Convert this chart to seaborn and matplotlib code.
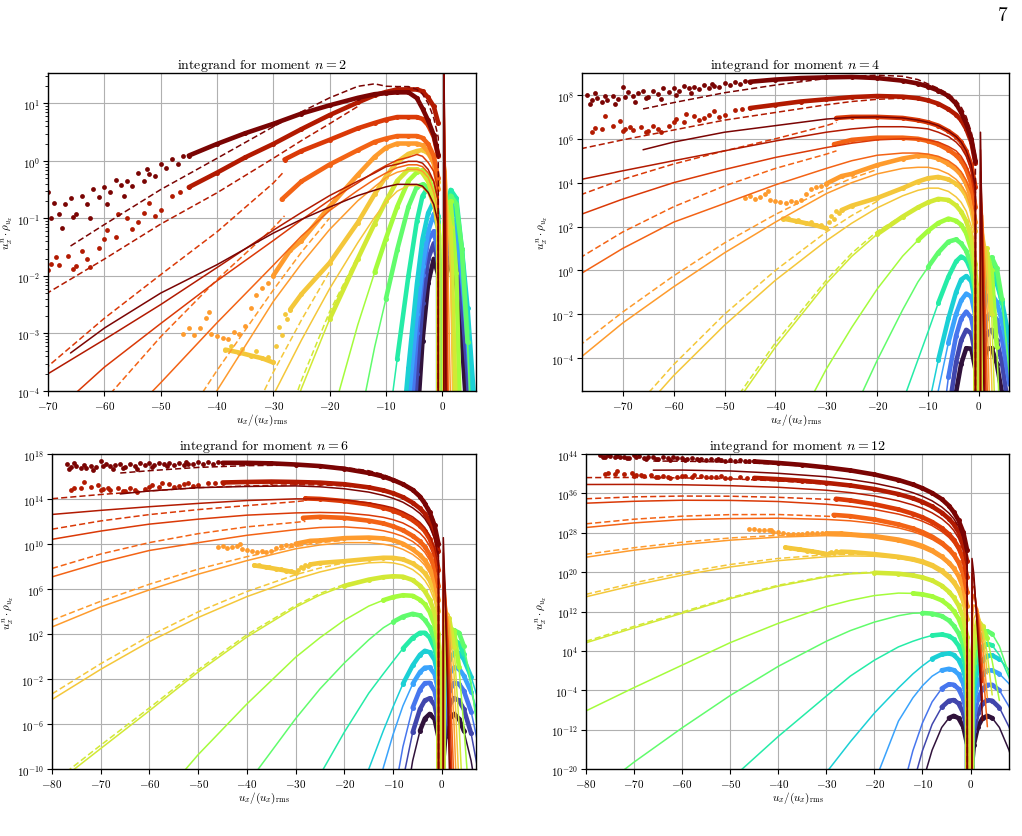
import numpy as np
import matplotlib
matplotlib.use("Agg")
import matplotlib.pyplot as plt
from matplotlib.ticker import NullLocator
import seaborn as sns

Z = -np.inf   # integrand is exactly zero at u_x = 0
N = np.nan    # curve not drawn there

u_grid = [-80, -70, -60, -50, -40, -30, -25, -20, -15, -12, -10, -8, -6, -4.5, -3.5,
          -2.5, -1.5, -0.7, 0, 0.3, 0.7, 1.5, 2.5, 3.5, 4.5, 6, 8, 10]

# log10 of the n=4 integrand for the solid fits, dataset 0 (dark purple) .. 14 (dark red)
fit_0 = [N] * 8 + [-47.9, -30.7, -21.5, -14.1, -8.48, -5.56, -4.26, -3.55, -3.57, -4.51, Z,
                   -5.89, -4.51, -3.57, -3.55, -4.26, -5.56, -8.48, -14.1, -21.5]
fit_1 = [N] * 8 + [-38.8, -24.7, -17.1, -11.0, -6.51, -4.19, -3.19, -2.71, -2.88, -3.89, Z,
                   -5.29, -3.89, -2.88, -2.71, -3.19, -4.19, -6.6, -11.5, -18.0]
fit_2 = [N] * 7 + [-57.7, -31.8, -19.9, -13.6, -8.58, -4.86, -2.98, -2.20, -1.88, -2.17, -3.22, Z,
                   -4.63, -3.22, -2.17, -1.88, -2.25, -3.1, -5.2, -9.5, -15.0]
fit_3 = [N] * 6 + [-42.4, -30.3, -16.8, -11.3, -8.2, -5.49, -3.29, -1.99, -1.37, -1.06, -1.20, -2.12, Z,
                   -3.49, -2.12, -1.20, -1.06, -1.45, -2.3, -4.0, -7.0, -11.0]
fit_4 = [N] * 5 + [-31.8, -24.9, -18.3, -12.2, -8.58, -6.3, -4.09, -2.19, -0.99, -0.42, -0.26, -0.50,
                   -1.52, Z, -2.89, -1.52, -0.50, -0.3, -0.6, -1.4, -3.2, -6.3, -10.0]
fit_5 = [N] * 3 + [-37.2, -27.6, -18.4, -13.7, -9.7, -6.0, -4.08, -2.8, -1.49, -0.29, 0.41, 0.63, 0.49,
                   -0.05, -1.12, Z, -2.45, -1.05, 0.0, 0.3, -0.3, -1.5, -4.5, -10.0, -17.0]
fit_6 = [-44.9, -36.9, -29.4, -22.2, -15.5, -9.4, -6.6, -4.1, -1.8, -0.53, 0.15, 0.81, 1.31, 1.41, 1.23,
         0.89, 0.25, -0.92, Z, -2.3, -0.85, 0.3, 0.6, 0.1, -1.3, -4.8, -11.5, N]
fit_7 = [-29.1, -23.9, -18.8, -13.6, -8.9, -4.5, -2.6, -0.85, 0.65, 1.37, 1.8, 2.16, 2.36, 2.26, 2.08,
         1.69, 0.95, -0.27, Z, -1.2, 0.1, 0.8, 0.0, -3.5, -9.0, -18.0, N, N]
fit_8 = [-17.4, -13.9, -10.4, -6.8, -3.5, -0.6, 0.64, 1.65, 2.45, 2.87, 3.1, 3.26, 3.21, 2.96, 2.68,
         2.24, 1.5, 0.28, Z, -0.6, 0.7, 1.0, -2.0, -9.0, -18.0, N, N, N]
fit_9 = [-10.2, -7.4, -4.8, -2.5, -0.45, 1.35, 2.15, 2.85, 3.4, 3.65, 3.75, 3.75, 3.6, 3.35, 3.1,
         2.7, 2.0, 0.9, Z, 0.8, 1.9, 0.8, -5.0, -15.0, N, N, N, N]
fit_10 = [-4.3, -2.4, -0.75, 0.8, 2.2, 3.5, 4.0, 4.4, 4.65, 4.7, 4.7, 4.6, 4.4, 4.15, 3.9,
          3.5, 2.8, 1.8, Z, 2.0, 2.5, -1.0, -10.0, -22.0, N, N, N, N]
fit_11 = [-0.4, 1.0, 2.2, 3.05, 3.9, 4.65, 5.0, 5.25, 5.35, 5.35, 5.3, 5.2, 5.0, 4.75, 4.5,
          4.1, 3.5, 2.5, Z, 3.5, 2.5, -4.0, -16.0, -30.0, N, N, N, N]
fit_12 = [2.4, 3.25, 4.0, 4.6, 5.15, 5.6, 5.8, 5.95, 6.0, 6.0, 5.95, 5.85, 5.65, 5.45, 5.2,
          4.8, 4.2, 3.2, Z, 4.5, 2.0, -7.0, -22.0, N, N, N, N, N]
fit_13 = [4.06, 4.54, 5.0, 5.45, 5.9, 6.3, 6.45, 6.55, 6.55, 6.5, 6.45, 6.3, 6.1, 5.85, 5.6,
          5.2, 4.55, 3.55, Z, 5.5, 1.0, -11.0, -28.0, N, N, N, N, N]
fit_14_u = [-66, -60, -50, -40, -30, -25, -20, -15, -12, -10, -8, -6, -4.5, -3.5, -2.5, -1.5, -0.7,
            0, 0.3, 0.7, 1.5, 2.5]
fit_14 = [5.5, 5.85, 6.3, 6.6, 6.9, 6.98, 7.0, 6.95, 6.85, 6.75, 6.6, 6.35, 6.1, 5.85, 5.45, 4.8, 3.8,
          Z, 6.3, 0.0, -15.0, -34.0]

# dashed fits (log10 of n=4 integrand)
dash_8_u = [-80, -70, -60, -50, -40, -30, -25, -20, -15]
dash_8 = [-17.1, -13.6, -10.15, -6.6, -3.3, -0.45, 0.78, 1.78, 2.5]
dash_9_u = [-80, -70, -60, -50, -40, -30, -25, -20]
dash_9 = [-9.7, -6.9, -4.3, -2.0, 0.0, 1.75, 2.5, 3.15]
dash_10_u = [-80, -70, -60, -50, -40, -30, -25, -20]
dash_10 = [-3.7, -1.9, -0.25, 1.25, 2.55, 3.7, 4.2, 4.6]
dash_11_u = [-80, -70, -60, -50, -40, -30, -28]
dash_11 = [0.35, 1.75, 2.9, 3.85, 4.65, 5.3, 5.45]
dash_12_u = [-80, -70, -60, -50, -40, -30, -28]
dash_12 = [3.3, 4.15, 4.85, 5.45, 6.0, 6.6, 6.75]
dash_13_u = [-80, -70, -60, -50, -40, -30, -25, -20, -15]
dash_13 = [5.46, 5.95, 6.4, 6.85, 7.2, 7.55, 7.7, 7.8, 7.85]
dash_14_u = [-66, -60, -50, -40, -30, -25, -20, -15, -12, -10, -8, -6, -4.5, -3.5, -2.5, -1.5, -0.7, 0]
dash_14 = [7.36, 7.65, 8.1, 8.45, 8.75, 8.85, 8.9, 8.85, 8.7, 8.5, 8.3, 8.05, 7.75, 7.45, 7.0, 6.3, 5.3, Z]

# extent of the measured points for datasets 0..8 (they lie on the solid fit)
band_lo = [-4.5, -6, -6, -6, -8, -8, -10, -12, -20]
band_hi = [4.5, 6, 6, 6, 6, 4.5, 4.5, 3.5, 2.5]

# measured points, datasets 9..14 (log10 of n=4 integrand)
band_9_u = [-27, -25, -20, -15, -12, -10, -8, -6, -4.5, -3.5, -2.5, -1.5, -0.7]
band_9 = [2.75, 2.95, 3.3, 3.75, 4.05, 4.2, 4.26, 4.15, 3.95, 3.75, 3.4, 2.8, 1.8]
flat_9_u = [-38.5, -36, -34, -32, -30]
flat_9 = [2.36, 2.25, 2.15, 2.05, 1.92]
dots_9_u = [-29.5, -29, -28.5, -28, -27.5, -31, -33, -35.5, -37.5]
dots_9 = [2.2, 2.5, 2.35, 2.7, 2.6, 2.05, 2.2, 2.3, 2.4]
band_10_u = [-30, -27, -25, -20, -15, -12, -10, -8, -6, -4.5, -3.5, -2.5, -1.5, -0.7]
band_10 = [3.95, 4.3, 4.4, 4.8, 5.1, 5.22, 5.22, 5.1, 4.85, 4.6, 4.35, 3.95, 3.3, 2.2]
dots_10_u = [-46, -45, -44, -43, -42, -41.5, -41, -40, -39, -38, -37, -36, -35, -34, -33, -32, -31]
dots_10 = [3.3, 3.4, 3.25, 3.35, 3.5, 3.6, 3.2, 3.15, 3.1, 3.05, 3.15, 3.1, 3.2, 3.5, 3.7, 3.8, 3.85]
band_11_u = [-28.5, -25, -20, -15, -12, -10, -8, -6, -4.5, -3.5, -2.5, -1.5, -0.7]
band_11 = [5.75, 5.95, 6.05, 6.05, 6.0, 5.9, 5.75, 5.5, 5.25, 5.0, 4.6, 3.95, 2.9]
band_12_u = [-28, -25, -20, -15, -12, -10, -8, -6, -4.5, -3.5, -2.5, -1.5, -0.7]
band_12 = [6.95, 7.0, 7.0, 6.95, 6.85, 6.75, 6.6, 6.35, 6.1, 5.85, 5.45, 4.8, 3.8]
band_13_u = [-45, -40, -35, -30, -25, -20, -15, -12, -10, -8, -6, -4.5, -3.5, -2.5, -1.5, -0.7]
band_13 = [7.4, 7.55, 7.7, 7.8, 7.9, 7.95, 7.92, 7.85, 7.75, 7.6, 7.35, 7.1, 6.85, 6.45, 5.85, 4.9]
dots_13_u = [-76, -75.5, -74, -73.5, -72, -70.5, -70, -69.5, -68.5, -68, -66.5, -65.5, -65, -64, -63,
             -62.5, -61, -60, -59.5, -58, -57.5, -56, -55, -54, -53, -52, -51, -50, -48, -46.5]
dots_13 = [6.3, 6.5, 6.45, 7.05, 6.6, 6.8, 6.35, 6.45, 6.55, 6.4, 6.55, 6.3, 6.35, 6.6, 6.45,
           6.3, 6.6, 6.75, 6.9, 6.75, 7.15, 7.05, 6.85, 6.95, 7.1, 7.25, 7.0, 7.1, 7.3, 7.35]
band_14_u = [-45, -40, -35, -30, -25, -20, -15, -12, -10, -8, -6, -4.5, -3.5, -2.5, -1.5, -0.7]
band_14 = [8.6, 8.7, 8.77, 8.8, 8.82, 8.77, 8.65, 8.52, 8.38, 8.2, 7.95, 7.6, 7.2, 6.7, 6.0, 5.0]
dots_14_u = [-77, -76.5, -76, -75.5, -75, -74, -73.5, -73, -72, -71.5, -71, -70, -69.5, -69, -68,
             -67.5, -67, -66, -65.5, -65, -64, -63, -62.5, -62, -61, -60, -59.5, -59, -58, -57,
             -56.5, -56, -55, -54, -53, -52.5, -52, -51, -50, -49, -48, -47, -46]
dots_14 = [8.0, 7.6, 7.75, 8.1, 7.85, 7.7, 7.95, 7.75, 7.95, 7.6, 7.8, 8.35, 7.9, 8.15, 7.95,
           7.7, 8.1, 8.2, 7.85, 7.9, 8.2, 8.05, 7.8, 8.3, 8.15, 8.3, 8.0, 8.2, 8.4, 8.3,
           8.1, 8.35, 8.25, 8.45, 8.3, 8.5, 8.4, 8.35, 8.55, 8.45, 8.6, 8.5, 8.62]

# vertical shift (log10) of each dataset in each panel, relative to n=4
off_2 = [2.22, 1.8, 1.3, 0.63, 0.15, -0.15, -0.55, -1.15, -1.8, -2.47, -2.99, -3.51, -4.03, -4.55, -5.2]
off_4 = [0.0] * 15
off_6 = [-2.35, -1.8, -1.26, -0.71, -0.16, 0.39, 0.93, 1.48, 2.03, 2.57, 3.12, 3.67, 4.21, 4.76, 5.31]
off_12 = [-9.3, -7.16, -5.02, -2.88, -0.74, 1.4, 3.54, 5.68, 7.82, 9.96, 12.1, 14.24, 16.38, 18.52, 20.66]

moments = [2, 4, 6, 12]


def integrand(u, logv, n, off):
    u = np.asarray(u, float)
    logv = np.asarray(logv, float)
    keep = ~np.isnan(logv)
    u, logv = u[keep], logv[keep]
    with np.errstate(divide="ignore", invalid="ignore", over="ignore"):
        y = np.where(u == 0, 0.0, 10.0 ** (logv + off) * np.abs(u) ** (n - 4))
    return u, y


sns.set_style("ticks")
plt.rcParams.update({
    "font.family": "serif",
    "font.serif": ["cmr10", "DejaVu Serif"],
    "mathtext.fontset": "cm",
    "axes.formatter.use_mathtext": True,
    "axes.unicode_minus": False,
    "axes.edgecolor": "black",
    "xtick.color": "black",
    "ytick.color": "black",
    "text.color": "black",
    "axes.labelcolor": "black",
})

fits = [fit_0, fit_1, fit_2, fit_3, fit_4, fit_5, fit_6, fit_7, fit_8, fit_9, fit_10, fit_11, fit_12, fit_13]
dashes = {8: (dash_8_u, dash_8), 9: (dash_9_u, dash_9), 10: (dash_10_u, dash_10),
          11: (dash_11_u, dash_11), 12: (dash_12_u, dash_12), 13: (dash_13_u, dash_13),
          14: (dash_14_u, dash_14)}
bands = {9: [(band_9_u, band_9), (flat_9_u, flat_9)], 10: [(band_10_u, band_10)],
         11: [(band_11_u, band_11)], 12: [(band_12_u, band_12)], 13: [(band_13_u, band_13)],
         14: [(band_14_u, band_14)]}
dots = {9: (dots_9_u, dots_9), 10: (dots_10_u, dots_10), 13: (dots_13_u, dots_13), 14: (dots_14_u, dots_14)}
offsets = {2: off_2, 4: off_4, 6: off_6, 12: off_12}

cmap = plt.get_cmap("turbo")
colors = [cmap(i / 14) for i in range(15)]

W, H = 1022, 837
fig = plt.figure(figsize=(W / 100, H / 100), dpi=100)
boxes = {2: (48, 74, 476, 392), 4: (582, 74, 1009, 392), 6: (52, 455, 476, 770), 12: (586, 455, 1009, 770)}
ylab_x = {2: -0.078, 4: -0.076, 6: -0.085, 12: -0.088}
xlims = {2: (-70, 6), 4: (-78, 5.9), 6: (-80, 7), 12: (-80, 8)}
ylims = {2: (1e-4, 10 ** 1.53), 4: (10 ** -5.5, 1e9), 6: (1e-10, 1e18), 12: (1e-20, 1e44)}
yexp = {2: range(-4, 2), 4: range(-4, 9, 2), 6: range(-10, 19, 4), 12: range(-20, 45, 8)}
xt = {2: range(-70, 1, 10), 4: range(-70, 1, 10), 6: range(-80, 1, 10), 12: range(-80, 1, 10)}

for n in moments:
    x0, y0, x1, y1 = boxes[n]
    ax = fig.add_axes([x0 / W, 1 - y1 / H, (x1 - x0) / W, (y1 - y0) / H])
    off = offsets[n]
    ug = np.array(u_grid, float)
    for k in range(15):
        c = colors[k]
        if k < 14:
            u, y = integrand(ug, fits[k], n, off[k])
        else:
            u, y = integrand(fit_14_u, fit_14, n, off[k])
        sns.lineplot(x=u, y=y, ax=ax, color=c, lw=1.1, sort=False, estimator=None)
        if k in dashes:
            u, y = integrand(dashes[k][0], dashes[k][1], n, off[k])
            sns.lineplot(x=u, y=y, ax=ax, color=c, lw=1.1, sort=False, estimator=None,
                         linestyle=(0, (4, 2)))
        if k < 9:
            sel = (ug >= band_lo[k]) & (ug <= band_hi[k])
            segs = [(ug[sel], np.array(fits[k], float)[sel])]
        else:
            segs = bands[k]
        for bu, bv in segs:
            u, y = integrand(bu, bv, n, off[k])
            sns.lineplot(x=u, y=y, ax=ax, color=c, lw=3.3, marker="o", markersize=3.6,
                         markeredgewidth=0, sort=False, estimator=None)
        if k in dots:
            u, y = integrand(dots[k][0], dots[k][1], n, off[k])
            sns.scatterplot(x=u, y=y, ax=ax, color=c, s=12, linewidth=0)

    ax.set_yscale("log")
    ax.set_xlim(*xlims[n])
    ax.set_ylim(*ylims[n])
    ax.set_yticks([10.0 ** e for e in yexp[n]])
    if n != 2:
        ax.yaxis.set_minor_locator(NullLocator())
    ax.set_xticks(list(xt[n]))
    ax.grid(True, color="#b0b0b0", lw=0.8)
    ax.tick_params(labelsize=8, length=3.5, width=0.8, pad=2)
    ax.set_title(r"integrand for moment $n=%d$" % n, fontsize=10, pad=3)
    ax.set_xlabel(r"$u_x/(u_x)_{\rm rms}$", fontsize=8, labelpad=1)
    ax.set_ylabel(r"$u_x^n\cdot\rho_{u_x}$", fontsize=8)
    ax.yaxis.set_label_coords(ylab_x[n], 0.5)
    for s in ax.spines.values():
        s.set_linewidth(1.0)

fig.text(1003 / W, 1 - 16 / H, "7", fontsize=14, ha="center", va="center")

fig.savefig("out.png", dpi=100)
